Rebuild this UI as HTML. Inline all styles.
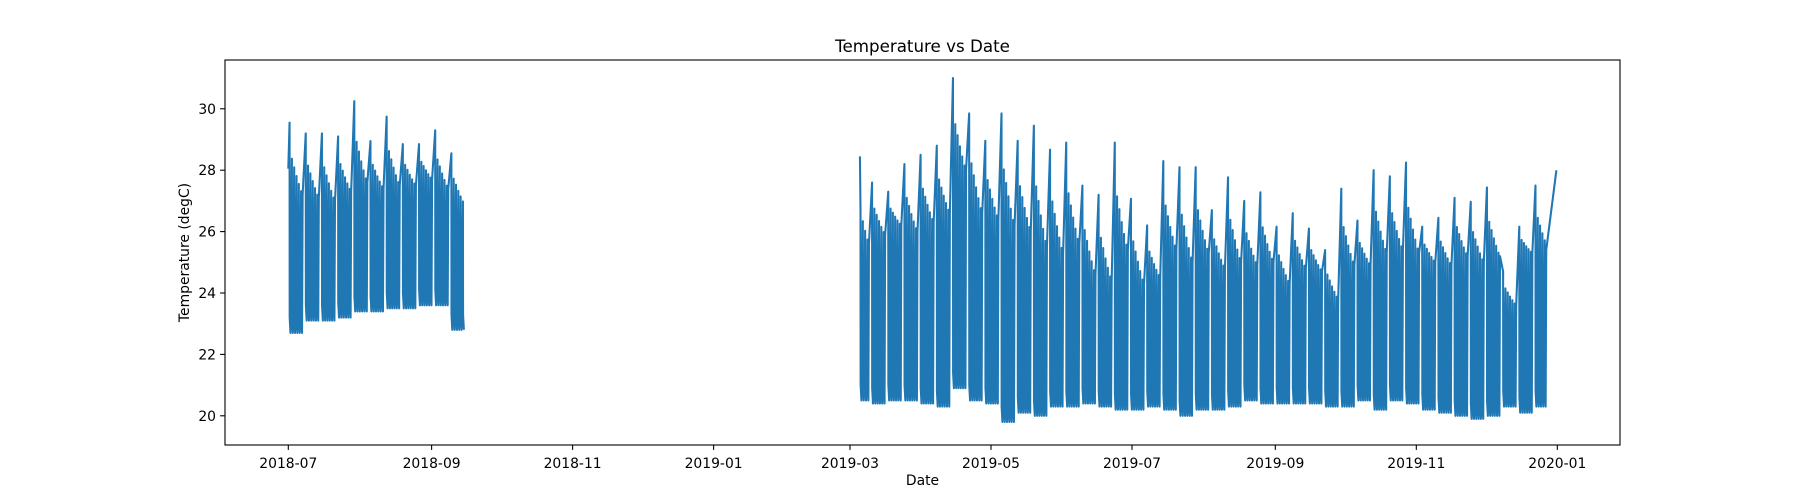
<!DOCTYPE html>
<html><head><meta charset="utf-8"><style>
html,body{margin:0;padding:0;background:#fff;}
svg{display:block;font-family:"DejaVu Sans","Liberation Sans",sans-serif;}
</style></head><body>
<svg id="chart" width="1800" height="500" viewBox="0 0 1800 500" xmlns="http://www.w3.org/2000/svg">
<rect x="0" y="0" width="1800" height="500" fill="#fff"/>
<text x="922.5" y="52" font-size="16.7" text-anchor="middle" fill="#000">Temperature vs Date</text>
<text x="922.5" y="485" font-size="13.9" text-anchor="middle" fill="#000">Date</text>
<text x="0" y="0" font-size="13.9" text-anchor="middle" fill="#000" transform="translate(189,252.5) rotate(-90)">Temperature (degC)</text>
<g id="series"></g>
<g id="xticks"></g>
<g id="yticks"></g>
<rect x="225" y="60" width="1395" height="385" fill="none" stroke="#000" stroke-width="1.1"/>
</svg>
<script>
// ---- data ----
const xTickLabels = ["2018-07","2018-09","2018-11","2019-01","2019-03","2019-05","2019-07","2019-09","2019-11","2020-01"];
const yTickValues = [20,22,24,26,28,30];
// Segment 1: weeks anchored on Sundays from 2018-07-01
const s1Start = "2018-07-01";
const s1LeadValue = 28.05;
const s1Peak = [29.55,29.2,29.2,29.1,30.25,28.95,29.75,28.85,28.85,29.3,28.55];
const s1Fri  = [27.2,27.1,27.0,27.3,27.6,27.4,27.5,27.5,27.7,27.4,26.9];
const s1Low  = [22.7,23.1,23.1,23.2,23.4,23.4,23.5,23.5,23.6,23.6,22.8];
const s1Work = [6,6,6,6,6,6,6,6,6,6,6];
// Segment 2: weeks anchored on Sundays from 2019-03-03 (data begins 2019-03-05)
const s2Start = "2019-03-03";
const s2SkipDays = 2;
const s2EndDate = "2019-12-31";
const s2EndValue = 28.0;
const s2Peak = [28.45,27.6,27.3,28.2,28.5,28.8,31.0,29.85,28.96,29.85,28.96,29.45,28.67,28.9,27.5,27.2,28.9,27.07,26.2,28.3,28.1,28.1,26.7,27.77,27.0,27.28,26.16,26.6,26.1,25.4,27.4,26.36,28.0,27.8,28.25,26.16,26.45,27.1,26.97,27.44,24.7,26.16,27.5];
const s2Fri  = [25.6,25.9,26.2,26.0,26.3,26.6,28.0,26.6,26.4,26.2,26.0,25.5,25.3,25.6,24.6,24.4,25.4,24.3,24.5,25.4,25.0,25.3,24.8,25.0,24.9,25.0,24.3,24.8,24.7,23.8,24.9,24.9,25.3,25.4,25.3,25.0,24.9,25.2,25.0,25.2,23.6,25.3,25.4];
const s2Low  = [20.5,20.4,20.5,20.5,20.4,20.3,20.9,20.5,20.4,19.8,20.1,20.0,20.3,20.3,20.4,20.3,20.2,20.2,20.3,20.2,20.0,20.2,20.2,20.3,20.5,20.4,20.4,20.4,20.4,20.3,20.3,20.5,20.2,20.5,20.4,20.2,20.1,20.0,19.9,20.0,20.3,20.1,20.3];
const s2Work = [6,6,6,6,6,6,6,6,6,6,6,6,6,6,6,6,6,6,6,6,6,6,6,6,6,6,6,6,6,6,6,6,6,6,6,6,6,6,6,6,6,6,5];

// ---- scales ----
const NS = "http://www.w3.org/2000/svg";
const ORIGIN = Date.UTC(2018,6,1);
function dayOf(s){const p=s.split("-").map(Number);return (Date.UTC(p[0],p[1]-1,p[2]||1)-ORIGIN)/864e5;}
function xS(d){return 288.3 + d*2.3115;}
function yS(v){return 415.8 - (v-20)*30.7;}
const decay=[1,0.5,0.38,0.26,0.15,0.05];

function buildSeg(anchorStr, peaks, fris, lows, work, skip, leadVal, endDateStr, endVal){
  const a0=dayOf(anchorStr); const pts=[];
  if(leadVal!==null) pts.push([a0, leadVal]);
  for(let w=0; w<peaks.length; w++){
    const a=a0+7*w, P=peaks[w], F=fris[w], L=lows[w], n=work[w];
    let st=0;
    if(w===0 && skip>0){ st=skip; pts.push([a+skip+0.3, P]); }
    for(let i=st;i<n;i++){
      const h=F+(P-F)*decay[i];
      pts.push([a+i+0.55, h]);
      pts.push([a+i+0.6, L+0.5]);
      pts.push([a+i+0.95, L]);
    }
    if(w<peaks.length-1) pts.push([a+n-1+1.2, F]);
    else if(endDateStr){ pts.push([a+n-1+1.2, F]); pts.push([dayOf(endDateStr)+0.6, endVal]); }
  }
  return pts;
}
function draw(pts, name){
  const p=document.createElementNS(NS,"path");
  p.setAttribute("d", pts.map((q,i)=>(i?"L":"M")+xS(q[0]).toFixed(2)+","+yS(q[1]).toFixed(2)).join(""));
  p.setAttribute("fill","none"); p.setAttribute("stroke","#1f77b4");
  p.setAttribute("stroke-width","2.08"); p.setAttribute("stroke-linejoin","round");
  
  
  document.getElementById("series").appendChild(p);
}
draw(buildSeg(s1Start,s1Peak,s1Fri,s1Low,s1Work,0,s1LeadValue,null,null),"series-2018");
draw(buildSeg(s2Start,s2Peak,s2Fri,s2Low,s2Work,s2SkipDays,null,s2EndDate,s2EndValue),"series-2019");

// ---- axes ----
const xg=document.getElementById("xticks");
xTickLabels.forEach(lab=>{
  const x=xS(dayOf(lab));
  const l=document.createElementNS(NS,"line");
  l.setAttribute("x1",x);l.setAttribute("x2",x);l.setAttribute("y1",445);l.setAttribute("y2",449.9);
  l.setAttribute("stroke","#000");l.setAttribute("stroke-width","1.1");
  
  
  xg.appendChild(l);
  const t=document.createElementNS(NS,"text");
  t.setAttribute("x",x);t.setAttribute("y",468);t.setAttribute("font-size","13.9");t.setAttribute("text-anchor","middle");
  t.textContent=lab;
  
  
  xg.appendChild(t);
});
const yg=document.getElementById("yticks");
yTickValues.forEach(v=>{
  const y=yS(v);
  const l=document.createElementNS(NS,"line");
  l.setAttribute("x1",220.1);l.setAttribute("x2",225);l.setAttribute("y1",y);l.setAttribute("y2",y);
  l.setAttribute("stroke","#000");l.setAttribute("stroke-width","1.1");
  
  
  yg.appendChild(l);
  const t=document.createElementNS(NS,"text");
  t.setAttribute("x",216);t.setAttribute("y",y+5);t.setAttribute("font-size","13.9");t.setAttribute("text-anchor","end");
  t.textContent=String(v);
  
  
  yg.appendChild(t);
});
</script>
</body></html>
